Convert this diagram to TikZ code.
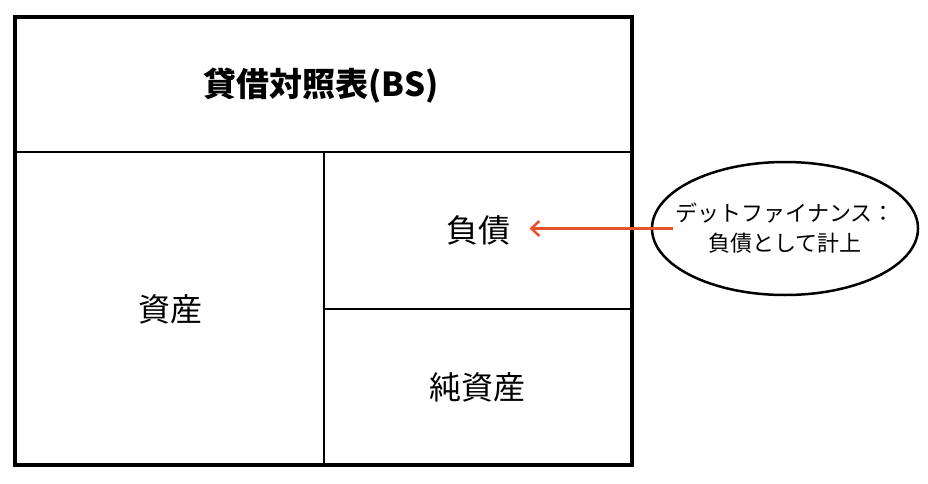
\documentclass[tikz,border=0pt]{standalone}
\usepackage{fontspec}
\setmainfont{Noto Sans CJK JP}
\usetikzlibrary{arrows.meta,positioning,shapes}

\definecolor{arrowred}{HTML}{E9532B}

\tikzset{
  frame/.style={line width=4pt},
  divider/.style={line width=2.5pt},
  cell/.style={font=\fontsize{32}{38}\selectfont},
  notetext/.style={font=\fontsize{22}{30}\selectfont,align=center,inner sep=2pt},
  arrowline/.style={arrowred,line width=2.5pt,-{Straight Barb[length=8pt,width=15pt]}}
}

\begin{document}
\begin{tikzpicture}[x=1pt,y=-1pt]
  \useasboundingbox (0,0) rectangle (928,484);
  % balance sheet box
  \draw[frame] (14.5,17) rectangle (631.5,465);
  \draw[divider] (14.5,152) -- (631.5,152);
  \draw[divider] (324,152) -- (324,465);
  \draw[divider] (324,309) -- (631.5,309);
  \node[cell,font=\fontsize{33}{38}\selectfont\bfseries] (title) at (321,86) {貸借対照表(BS)};
  \node[cell] (assets) at (170,309) {資産};
  \node[cell] (debt) at (478,230) {負債};
  \node[cell] (equity) at (477,387) {純資産};
  % note
  \node[ellipse,draw,line width=2.5pt,minimum width=266pt,minimum height=133pt] (note) at (785,228.5) {};
  \node[notetext] (notelabel) at (note) {デットファイナンス：\\負債として計上};
  \draw[arrowline] (notelabel.west |- note.center) -- ([xshift=16pt]debt.east |- note.center);
\end{tikzpicture}
\end{document}
